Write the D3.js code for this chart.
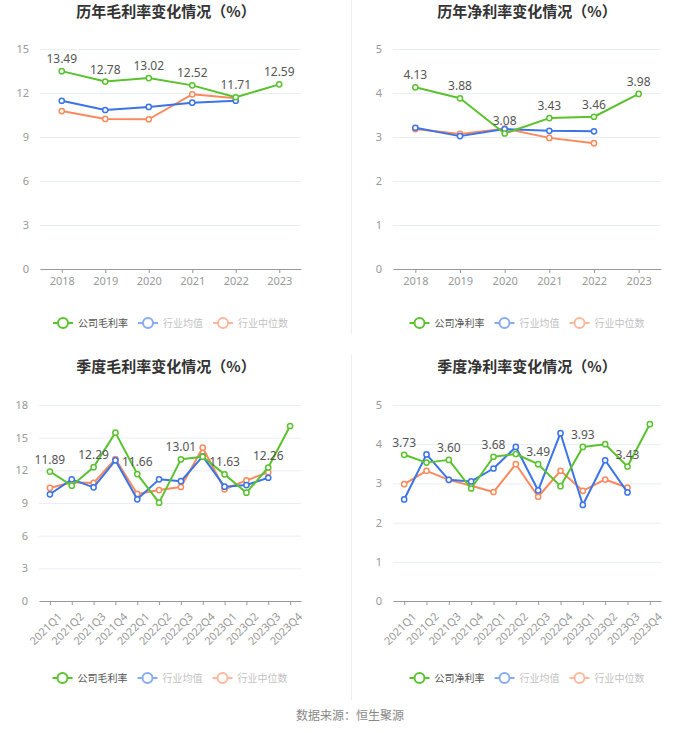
<!DOCTYPE html>
<html>
<head>
<meta charset="utf-8">
<script src="https://cdn.jsdelivr.net/npm/d3@7"></script>
<style>
  body { margin: 0; background: #fff; }
  svg { display: block; font-family: "Noto Sans CJK SC", "Noto Sans", sans-serif; }
</style>
</head>
<body>
<svg id="chart" width="700" height="733"></svg>
<script>
// annual data
var years = ['2018', '2019', '2020', '2021', '2022', '2023'];
var grossCompany = [13.49, 12.78, 13.02, 12.52, 11.71, 12.59];
var grossMean = [11.47, 10.84, 11.05, 11.34, 11.47];
var grossMedian = [10.77, 10.23, 10.21, 11.91, 11.64];
var netCompany = [4.13, 3.88, 3.08, 3.43, 3.46, 3.98];
var netMean = [3.21, 3.02, 3.18, 3.14, 3.13];
var netMedian = [3.18, 3.07, 3.19, 2.98, 2.86];

// quarterly data
var quarters = ['2021Q1', '2021Q2', '2021Q3', '2021Q4', '2022Q1', '2022Q2',
    '2022Q3', '2022Q4', '2023Q1', '2023Q2', '2023Q3', '2023Q4'];
var qGrossCompany = [11.89, 10.59, 12.29, 15.46, 11.66, 9.03, 13.01, 13.25, 11.63, 9.95, 12.26, 16.07];
var qGrossMean = [9.80, 11.17, 10.44, 12.92, 9.34, 11.17, 11.00, 13.28, 10.50, 10.65, 11.32];
var qGrossMedian = [10.38, 10.90, 10.84, 13.04, 9.83, 10.19, 10.47, 14.08, 10.26, 11.08, 11.82];
var qNetCompany = [3.73, 3.53, 3.60, 2.87, 3.68, 3.75, 3.49, 2.93, 3.93, 4.00, 3.43, 4.51];
var qNetMean = [2.59, 3.74, 3.09, 3.05, 3.38, 3.93, 2.82, 4.28, 2.45, 3.59, 2.77];
var qNetMedian = [2.98, 3.32, 3.09, 2.94, 2.78, 3.49, 2.66, 3.32, 2.81, 3.10, 2.89];

var grossTicks = [0, 3, 6, 9, 12, 15];
var netTicks = [0, 1, 2, 3, 4, 5];
var qGrossTicks = [0, 3, 6, 9, 12, 15, 18];

var COLORS = { company: '#5ac22e', mean: '#3a74e8', median: '#fa8a5d' };

var svg = d3.select('#chart');

// faint panel divider
svg.append('line').attr('x1', 351.5).attr('x2', 351.5).attr('y1', 0).attr('y2', 334)
    .attr('stroke', '#eeeeee');
svg.append('line').attr('x1', 351.5).attr('x2', 351.5).attr('y1', 355).attr('y2', 700)
    .attr('stroke', '#eeeeee');

function drawChart (cfg) {
    var g = svg.append('g');
    var x = d3.scalePoint().domain(cfg.categories).range([cfg.left, cfg.right]).padding(0.5);
    var y = d3.scaleLinear().domain([0, d3.max(cfg.ticks)]).range([cfg.bottom, cfg.top]);

    g.append('text')
        .attr('x', cfg.titleX).attr('y', cfg.titleY)
        .attr('text-anchor', 'middle')
        .style('font-size', '15px').style('font-weight', 'bold').style('fill', '#333')
        .text(cfg.title);

    // grid
    g.selectAll('line.grid').data(cfg.ticks.slice(1)).enter().append('line')
        .attr('class', 'grid')
        .attr('x1', cfg.left).attr('x2', cfg.right)
        .attr('y1', function (d) { return y(d) + 0.5; })
        .attr('y2', function (d) { return y(d) + 0.5; })
        .attr('stroke', '#e9edf5');

    var yAxis = g.append('g').attr('transform', 'translate(' + (cfg.left - 8) + ',0)')
        .call(d3.axisLeft(y).tickValues(cfg.ticks).tickSize(0).tickFormat(d3.format('d')));
    yAxis.select('.domain').remove();
    yAxis.selectAll('text').style('fill', '#999').style('font-size', '11px')
        .style('font-family', '"Noto Sans", sans-serif');

    var xAxis = g.append('g').attr('transform', 'translate(0,' + cfg.bottom + ')')
        .call(d3.axisBottom(x).tickSize(4).tickSizeOuter(0).tickPadding(4));
    xAxis.select('.domain').attr('stroke', '#999').attr('stroke-width', 1.2);
    xAxis.selectAll('.tick line').attr('stroke', '#999');
    xAxis.selectAll('text').style('fill', '#999').style('font-size', '11px')
        .style('font-family', '"Noto Sans", sans-serif');
    if (cfg.rotate) {
        xAxis.selectAll('text')
            .attr('text-anchor', 'end')
            .attr('dy', '0.35em')
            .attr('transform', 'translate(4,8) rotate(-45)');
    }

    var series = [
        { values: cfg.median, color: COLORS.median },
        { values: cfg.mean, color: COLORS.mean },
        { values: cfg.company, color: COLORS.company }
    ];
    var line = d3.line()
        .x(function (d, i) { return x(cfg.categories[i]); })
        .y(function (d) { return y(d); });

    series.forEach(function (s) {
        g.append('path').datum(s.values)
            .attr('d', line)
            .attr('fill', 'none')
            .attr('stroke', s.color)
            .attr('stroke-width', 2)
            .attr('stroke-linejoin', 'round');
        g.selectAll(null).data(s.values).enter().append('circle')
            .attr('cx', function (d, i) { return x(cfg.categories[i]); })
            .attr('cy', function (d) { return y(d); })
            .attr('r', 2.6)
            .attr('fill', '#fff')
            .attr('stroke', s.color)
            .attr('stroke-width', 1.5);
    });

    var labelled = cfg.company.map(function (v, i) { return { v: v, i: i }; })
        .filter(function (d) { return d.i % cfg.labelEvery === 0; });
    g.selectAll(null).data(labelled).enter()
        .append('text')
        .attr('x', function (d) { return x(cfg.categories[d.i]); })
        .attr('y', function (d) { return y(d.v) - 8; })
        .attr('text-anchor', 'middle')
        .style('font-size', '12px').style('fill', '#555')
        .style('font-family', '"Noto Sans", sans-serif')
        .text(function (d) { return d.v.toFixed(2); });

    // legend
    var items = [
        { name: cfg.legendName, color: COLORS.company, text: '#555', op: 1 },
        { name: '行业均值', color: COLORS.mean, text: '#999', op: 0.6 },
        { name: '行业中位数', color: COLORS.median, text: '#999', op: 0.6 }
    ];
    var lg = g.append('g');
    var cx = 0;
    items.forEach(function (it) {
        var ig = lg.append('g').attr('transform', 'translate(' + cx + ',0)').style('opacity', it.op);
        ig.append('line').attr('x1', 0).attr('x2', 20).attr('y1', 0).attr('y2', 0)
            .attr('stroke', it.color).attr('stroke-width', 2);
        ig.append('circle').attr('cx', 10).attr('cy', 0).attr('r', 5)
            .attr('fill', '#fff').attr('stroke', it.color).attr('stroke-width', 2);
        var t = ig.append('text').attr('x', 25).attr('y', 0).attr('dy', '0.35em')
            .style('font-size', '10px').style('fill', it.text).text(it.name);
        cx += 25 + t.node().getComputedTextLength() + 10;
    });
    var lw = cx - 10;
    lg.attr('transform', 'translate(' + ((cfg.left + cfg.right) / 2 - lw / 2) + ',' + cfg.legendY + ')');
}

drawChart({
    title: '历年毛利率变化情况（%）', titleX: 166, titleY: 17,
    categories: years, company: grossCompany, mean: grossMean, median: grossMedian,
    ticks: grossTicks, left: 40, right: 301, top: 49, bottom: 269,
    labelEvery: 1, legendName: '公司毛利率', legendY: 323, rotate: false
});
drawChart({
    title: '历年净利率变化情况（%）', titleX: 527, titleY: 17,
    categories: years, company: netCompany, mean: netMean, median: netMedian,
    ticks: netTicks, left: 393, right: 661, top: 49, bottom: 269,
    labelEvery: 1, legendName: '公司净利率', legendY: 323, rotate: false
});
drawChart({
    title: '季度毛利率变化情况（%）', titleX: 166, titleY: 372,
    categories: quarters, company: qGrossCompany, mean: qGrossMean, median: qGrossMedian,
    ticks: qGrossTicks, left: 39, right: 301, top: 405, bottom: 601,
    labelEvery: 2, legendName: '公司毛利率', legendY: 678, rotate: true
});
drawChart({
    title: '季度净利率变化情况（%）', titleX: 527, titleY: 372,
    categories: quarters, company: qNetCompany, mean: qNetMean, median: qNetMedian,
    ticks: netTicks, left: 393, right: 661, top: 405, bottom: 601,
    labelEvery: 2, legendName: '公司净利率', legendY: 678, rotate: true
});

svg.append('text')
    .attr('x', 350).attr('y', 720)
    .attr('text-anchor', 'middle')
    .style('font-size', '12px').style('fill', '#888')
    .text('数据来源：恒生聚源');
</script>
</body>
</html>
